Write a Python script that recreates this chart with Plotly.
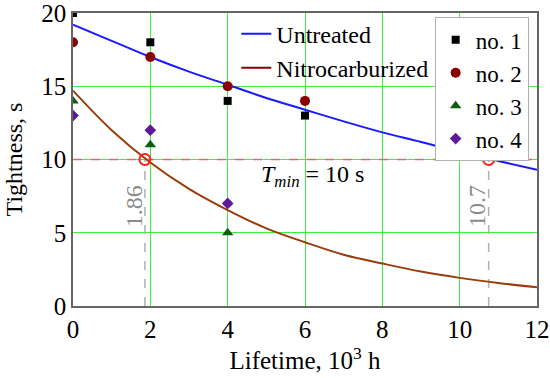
import plotly.graph_objects as go

# Fitted curves
curve_x = [0, 1, 2, 3, 4, 5, 6, 7, 8, 9, 10, 11, 12]
untreated_y = [19.2, 18.1, 17.0, 16.0, 15.1, 14.2, 13.4, 12.6, 11.85, 11.2, 10.5, 9.9, 9.3]
nitro_y = [14.7, 12.0, 9.8, 8.0, 6.55, 5.3, 4.35, 3.5, 2.9, 2.35, 1.92, 1.57, 1.28]

# Measured points
no1_x = [0, 2, 4, 6]
no1_y = [20, 18, 14, 13]
no2_x = [0, 2, 4, 6]
no2_y = [18, 17, 15, 14]
no3_x = [0, 2, 4]
no3_y = [14, 11, 5]
no4_x = [0, 2, 4]
no4_y = [13, 12, 7]

# Threshold and crossings
t_min = 10
cross_x = [1.86, 10.75]
cross_labels = ["1.86", "10.7"]

x_ticks = [0, 2, 4, 6, 8, 10, 12]
y_ticks = [0, 5, 10, 15, 20]

FONT = "Liberation Serif, Times New Roman, serif"
GRID = "#3cf03c"

fig = go.Figure()

# threshold line
fig.add_trace(go.Scatter(x=[x_ticks[0], x_ticks[-1]], y=[t_min, t_min], mode="lines",
                         line=dict(color="#e06a6a", width=1.5, dash="dash"),
                         showlegend=False, hoverinfo="skip"))
# vertical gray dashed lines
for cx in cross_x:
    fig.add_trace(go.Scatter(x=[cx, cx], y=[0, t_min], mode="lines",
                             line=dict(color="#b0b0b0", width=1.5, dash="dash"),
                             showlegend=False, hoverinfo="skip"))

# curves
fig.add_trace(go.Scatter(x=curve_x, y=untreated_y, mode="lines", line=dict(color="#1a1aff", width=2, shape="spline"),
                         name="Untreated", legend="legend"))
fig.add_trace(go.Scatter(x=curve_x, y=nitro_y, mode="lines", line=dict(color="#9a3d0a", width=2, shape="spline"),
                         showlegend=False))
fig.add_trace(go.Scatter(x=[None], y=[None], mode="lines", line=dict(color="#8b0000", width=2),
                         name="Nitrocarburized", legend="legend"))

# crossing markers
fig.add_trace(go.Scatter(x=cross_x, y=[t_min] * len(cross_x), mode="markers",
                         marker=dict(symbol="circle-open", size=11, color="#ff1a1a", line=dict(width=2)),
                         showlegend=False, hoverinfo="skip"))

# points
fig.add_trace(go.Scatter(x=no1_x, y=no1_y, mode="markers", name="no. 1", legend="legend2",
                         marker=dict(symbol="square", size=8, color="#000000")))
fig.add_trace(go.Scatter(x=no2_x, y=no2_y, mode="markers", name="no. 2", legend="legend2",
                         marker=dict(symbol="circle", size=10, color="#8b0000")))
fig.add_trace(go.Scatter(x=no3_x, y=no3_y, mode="markers", name="no. 3", legend="legend2",
                         marker=dict(symbol="triangle-up", size=10, color="#0b5e0b")))
fig.add_trace(go.Scatter(x=no4_x, y=no4_y, mode="markers", name="no. 4", legend="legend2",
                         marker=dict(symbol="diamond", size=9, color="#5a1a9a")))

# annotations
for cx, lab in zip(cross_x, cross_labels):
    fig.add_annotation(x=cx, y=6.8, text=lab, showarrow=False, textangle=-90,
                       xanchor="right", xshift=4, font=dict(family=FONT, size=24, color="#8a8a8a"))
fig.add_annotation(x=6.2, y=8.9, text="<i>T</i><sub><i>min</i></sub> = 10 s", showarrow=False,
                   font=dict(family=FONT, size=24, color="#000000"))

fig.update_layout(
    width=550, height=378,
    margin=dict(l=73, r=13, t=13, b=72),
    paper_bgcolor="white", plot_bgcolor="white",
    font=dict(family=FONT, size=24, color="#000000"),
    legend=dict(x=0.352, y=1.005, xanchor="left", yanchor="top", bgcolor="rgba(0,0,0,0)",
                borderwidth=0, font=dict(family=FONT, size=24), tracegroupgap=0),
    legend2=dict(x=0.982, y=0.985, xanchor="right", yanchor="top", bgcolor="white",
                 bordercolor="#b0b0b0", borderwidth=1, font=dict(family=FONT, size=23),
                 itemwidth=30, tracegroupgap=0),
    xaxis=dict(range=[0, 12], tickvals=x_ticks, showgrid=True, gridcolor=GRID, gridwidth=1.3,
               zeroline=False, showline=True, linecolor="#666666", linewidth=1.5, mirror=True,
               ticks="", tickfont=dict(family=FONT, size=25), automargin=False,
               ticklabeloverflow="allow",
               title=dict(text="Lifetime, 10<sup>3</sup> h", font=dict(family=FONT, size=25), standoff=8)),
    yaxis=dict(range=[0, 20], tickvals=y_ticks, showgrid=True, gridcolor=GRID, gridwidth=1.3,
               zeroline=False, showline=True, linecolor="#666666", linewidth=1.5, mirror=True,
               ticks="", tickfont=dict(family=FONT, size=25), automargin=False,
               ticklabeloverflow="allow",
               title=dict(text="Tightness, s", font=dict(family=FONT, size=24), standoff=12)),
)

fig.write_html("out.html", config={"displayModeBar": False},
               post_script="document.body.style.margin='0';document.body.style.overflow='hidden';")
